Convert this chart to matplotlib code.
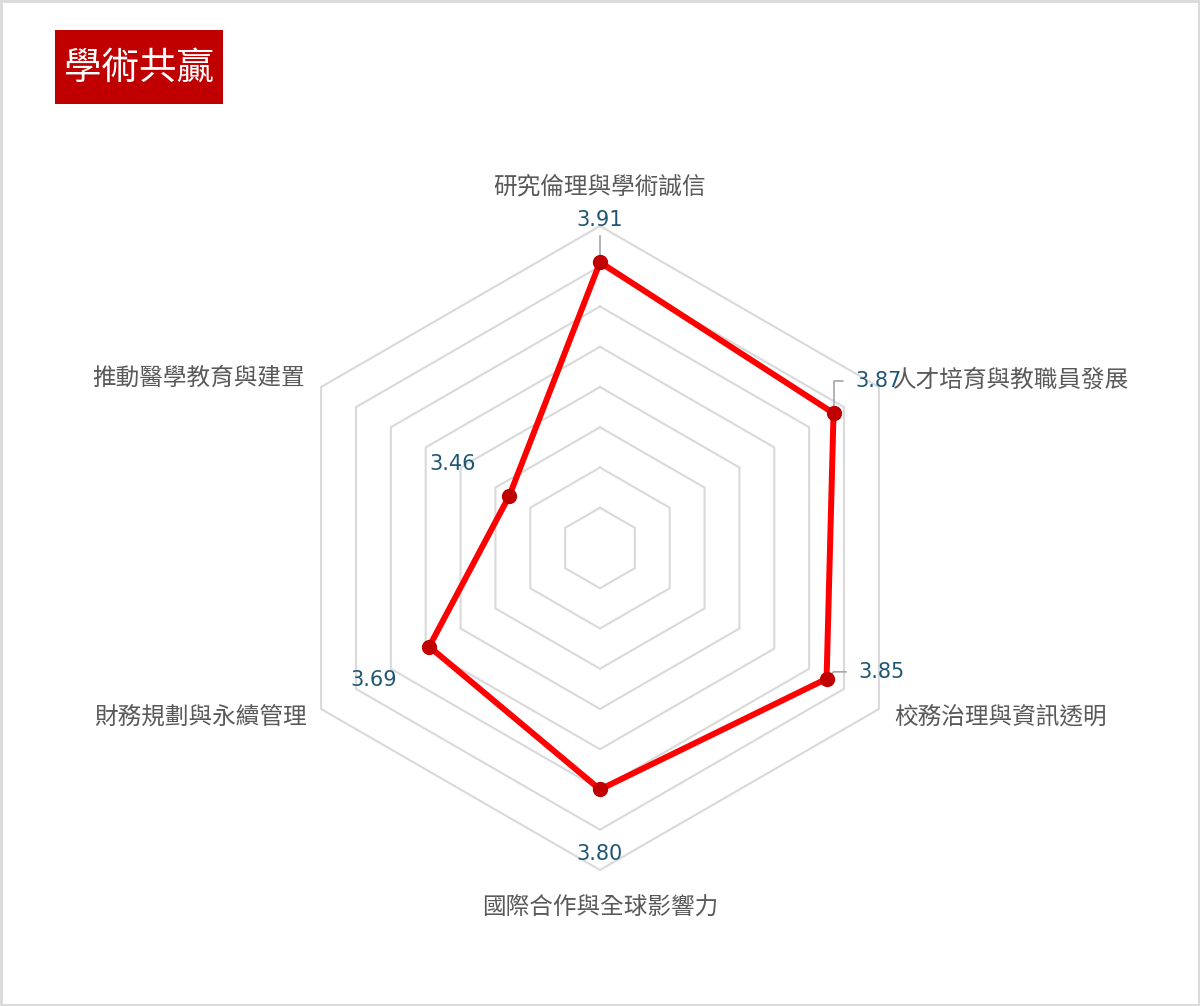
import numpy as np
import matplotlib
matplotlib.use("Agg")
import matplotlib.pyplot as plt
from matplotlib.patches import Rectangle

plt.rcParams['font.family'] = ['Noto Sans CJK TC', 'DejaVu Sans']

title = "學術共贏"
categories = ["研究倫理與學術誠信", "人才培育與教職員發展", "校務治理與資訊透明",
              "國際合作與全球影響力", "財務規劃與永續管理", "推動醫學教育與建置"]
values = [3.91, 3.87, 3.85, 3.80, 3.69, 3.46]
r_min, r_max = 3.2, 4.0
rings = [3.3, 3.4, 3.5, 3.6, 3.7, 3.8, 3.9, 4.0]

# layout of labels (pixels), kept apart from the data
cat_offsets = [(0, 39, 'center'), (14, 7, 'left'), (15, -8, 'left'),
               (0, -38, 'center'), (-14, -8, 'right'), (-16, 9, 'right')]
val_offsets = [(0, 42, 'center'), (22, 32, 'left'), (32, 7, 'left'),
               (0, -65, 'center'), (-56, -33, 'center'), (-57, 32, 'center')]

W, H = 1200, 1006
fig = plt.figure(figsize=(W / 100, H / 100), dpi=100)

# outer frame
fig.patches.append(Rectangle((0.001, 0.001), 0.998, 0.998, transform=fig.transFigure,
                             fill=False, edgecolor='#d9d9d9', linewidth=2))

# title box
fig.patches.append(Rectangle((55 / W, 1 - 104 / H), 168 / W, 74 / H, transform=fig.transFigure,
                             facecolor='#c00000', edgecolor='none'))
fig.text(139 / W, 1 - 68 / H, title, color='white', fontsize=27, fontweight='medium',
         ha='center', va='center')

cx, cy, R = 600, 548, 322
ax = fig.add_axes([(cx - R) / W, (H - cy - R) / H, 2 * R / W, 2 * R / H], projection='polar')
ax.set_theta_zero_location('N')
ax.set_theta_direction(-1)
ax.set_ylim(r_min, r_max)
ax.axis('off')

n = len(categories)
angles = np.arange(n) * 2 * np.pi / n
closed = np.append(angles, angles[0])

for rv in rings:
    ax.plot(closed, [rv] * (n + 1), color='#d9d9d9', lw=1.5, zorder=1, clip_on=False)

ax.plot(closed, values + values[:1], color='#ff0000', lw=4.3, zorder=3, clip_on=False)
ax.plot(angles, values, 'o', color='#c00000', markersize=10, zorder=4, clip_on=False)

for a, c, (dx, dy, ha) in zip(angles, categories, cat_offsets):
    ax.annotate(c, xy=(a, r_max), xytext=(dx, dy), textcoords='offset pixels',
                ha=ha, va='center', fontsize=17, color='#595959', annotation_clip=False)

leaders = {
    0: dict(arrowstyle='-', color='#a6a6a6', lw=1.2, shrinkA=2, shrinkB=0),
    1: dict(arrowstyle='-', color='#a6a6a6', lw=1.2, shrinkA=7, shrinkB=0, relpos=(0, 0.5),
            connectionstyle='angle,angleA=0,angleB=90,rad=0'),
    2: dict(arrowstyle='-', color='#a6a6a6', lw=1.2, shrinkA=7, shrinkB=0, relpos=(0, 0.5),
            connectionstyle='angle,angleA=0,angleB=45,rad=0'),
}
for i, (a, v, (dx, dy, ha)) in enumerate(zip(angles, values, val_offsets)):
    ax.annotate(f"{v:.2f}", xy=(a, v), xytext=(dx, dy), textcoords='offset pixels',
                ha=ha, va='center', fontsize=15, color='#1f5673',
                family=['DejaVu Sans'], annotation_clip=False,
                arrowprops=leaders.get(i), zorder=2)

fig.savefig("out.png", dpi=100)
